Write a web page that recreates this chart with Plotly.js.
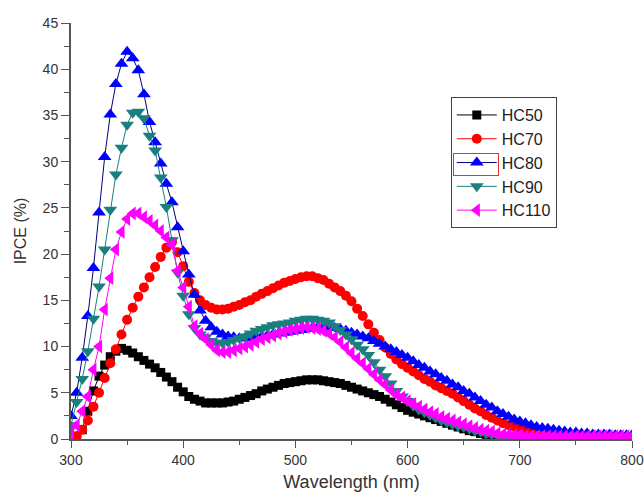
<!DOCTYPE html>
<html><head><meta charset="utf-8">
<script src="https://cdn.plot.ly/plotly-3.0.1.min.js"></script>
<style>html,body{margin:0;padding:0;background:#fff}#chart{width:644px;height:497px}</style>
</head><body><div id="chart"></div>
<script>
const wavelength = [300,305,310,315,320,325,330,335,340,345,350,355,360,365,370,375,380,385,390,395,400,405,410,415,420,425,430,435,440,445,450,455,460,465,470,475,480,485,490,495,500,505,510,515,520,525,530,535,540,545,550,555,560,565,570,575,580,585,590,595,600,605,610,615,620,625,630,635,640,645,650,655,660,665,670,675,680,685,690,695,700,705,710,715,720,725,730,735,740,745,750,755,760,765,770,775,780,785,790,795,800];

const hc50 = [0.0,0.3,1.0,3.0,5.2,6.8,8.0,8.9,9.5,9.8,9.6,9.3,8.9,8.5,8.1,7.7,7.2,6.7,6.2,5.6,5.1,4.6,4.3,4.1,3.9,3.9,3.9,3.9,4.0,4.1,4.3,4.5,4.7,4.9,5.2,5.4,5.6,5.8,6.0,6.1,6.2,6.3,6.4,6.4,6.4,6.3,6.2,6.1,6.0,5.8,5.6,5.4,5.2,5.0,4.8,4.6,4.3,4.0,3.7,3.4,3.1,2.9,2.7,2.5,2.3,2.1,1.9,1.7,1.5,1.3,1.1,0.9,0.8,0.6,0.5,0.4,0.3,0.2,0.2,0.1,0.1,0.1,0.1,0.1,0.1,0.1,0.1,0.1,0.1,0.1,0.1,0.1,0.1,0.1,0.1,0.1,0.1,0.1,0.1,0.1,0.1];

const hc70 = [0.0,0.3,1.0,2.0,3.5,5.0,6.6,8.2,9.7,11.3,12.9,14.2,15.4,16.4,17.5,18.6,19.7,20.7,21.3,20.2,18.7,17.0,15.8,15.0,14.5,14.2,14.0,14.0,14.1,14.3,14.5,14.8,15.0,15.4,15.7,16.0,16.3,16.6,16.9,17.1,17.3,17.5,17.6,17.6,17.4,17.2,16.8,16.4,16.0,15.5,14.9,14.1,13.3,12.4,11.5,10.7,9.9,9.2,8.6,8.1,7.7,7.3,6.9,6.5,6.2,5.8,5.5,5.2,4.9,4.5,4.1,3.7,3.3,3.0,2.6,2.3,2.0,1.7,1.5,1.3,1.1,0.9,0.8,0.6,0.5,0.4,0.3,0.3,0.3,0.2,0.2,0.2,0.2,0.2,0.2,0.2,0.2,0.2,0.2,0.2,0.2];

const hc80 = [2.5,5.0,8.8,13.3,18.5,24.5,30.5,35.1,38.4,40.6,41.9,41.2,39.9,37.3,34.3,32.1,29.8,27.6,25.6,22.9,20.3,17.8,15.6,13.9,12.8,12.1,11.6,11.3,11.1,11.0,10.9,10.9,11.0,11.0,11.1,11.2,11.3,11.4,11.5,11.6,11.7,11.8,11.9,12.0,12.1,12.1,12.1,12.0,11.9,11.7,11.5,11.3,11.1,10.9,10.6,10.3,10.0,9.7,9.4,9.1,8.8,8.4,8.0,7.7,7.3,7.0,6.6,6.3,5.9,5.6,5.2,4.9,4.5,4.1,3.7,3.4,3.0,2.7,2.4,2.1,1.9,1.7,1.5,1.3,1.2,1.1,1.0,0.9,0.8,0.7,0.7,0.6,0.6,0.5,0.5,0.5,0.5,0.4,0.4,0.4,0.4];

const hc90 = [1.5,4.0,6.5,9.5,13.0,16.5,20.5,24.8,28.6,31.5,34.0,35.3,35.4,34.7,32.8,31.2,28.3,25.1,21.5,18.0,15.5,13.5,12.0,11.3,11.0,10.6,10.4,10.4,10.5,10.7,10.9,11.1,11.4,11.7,11.9,12.1,12.3,12.4,12.5,12.6,12.8,12.9,13.0,13.0,12.9,12.8,12.6,12.2,11.8,11.3,10.8,10.2,9.7,9.1,8.3,7.5,6.8,6.0,5.2,4.6,4.1,3.6,3.2,2.9,2.6,2.3,2.0,1.8,1.6,1.4,1.3,1.1,0.9,0.8,0.6,0.5,0.4,0.3,0.2,0.1,0.0,0.0,0.0,0.0,0.0,0.0,0.0,0.0,0.0,0.0,0.0,0.0,0.0,0.0,0.0,0.0,0.0,0.0,0.0,0.0,0.0];

const hc110 = [0.5,1.5,3.0,4.6,7.5,10.0,14.0,17.4,20.5,22.4,23.8,24.4,24.4,24.0,23.6,23.1,22.5,21.8,21.0,18.2,16.4,14.3,12.2,11.4,10.8,10.2,9.6,9.4,9.4,9.6,9.8,10.0,10.2,10.5,10.8,11.0,11.2,11.4,11.6,11.8,11.9,12.0,12.1,12.0,11.9,11.7,11.4,11.0,10.5,9.9,9.3,8.7,8.2,7.6,7.0,6.4,5.9,5.3,4.8,4.5,4.1,3.8,3.5,3.2,2.9,2.7,2.4,2.2,2.0,1.8,1.6,1.4,1.2,1.0,0.9,0.8,0.6,0.5,0.5,0.4,0.4,0.3,0.3,0.3,0.3,0.3,0.3,0.3,0.3,0.3,0.3,0.3,0.3,0.3,0.3,0.3,0.3,0.3,0.3,0.3,0.3];

const seriesNames = ["HC50","HC70","HC80","HC90","HC110"];
const seriesData = [hc50, hc70, hc80, hc90, hc110];
const lineColors = ["#000000","#ff0000","#00007f","#1a7f7f","#ff00ff"];
const markerColors = ["#000000","#ff0000","#0000ff","#1a7f7f","#ff00ff"];
const symbols = ["square","circle","triangle-up","triangle-down","triangle-left"];
const sizes = [9,10,12,12,12];

const traces = seriesNames.map((n,i)=>({
  type:"scatter", mode:"lines+markers", name:n,
  x: wavelength, y: seriesData[i],
  line:{color:lineColors[i], width:1},
  marker:{symbol:symbols[i], size:sizes[i], color:markerColors[i]}
}));

const fam = "Arial, Liberation Sans, sans-serif";
const axisFont = {family:fam, size:14, color:"#333"};
const layout = {
  width:644, height:497,
  margin:{l:71, r:12, t:23, b:58},
  paper_bgcolor:"#fff", plot_bgcolor:"#fff",
  showlegend:true,
  legend:{x:0.677, y:0.822, xanchor:"left", yanchor:"top", bgcolor:"#fff",
    bordercolor:"#444", borderwidth:1, font:{family:fam, size:16, color:"#222"},
    tracegroupgap:0, itemwidth:40},
  xaxis:{range:[300,800], tickvals:[300,400,500,600,700,800], ticks:"outside", ticklen:7, tickwidth:1,
    tickcolor:"#555", showline:true, linecolor:"#555", linewidth:2, showgrid:false, zeroline:false,
    tickfont:axisFont, minor:{tickvals:[350,450,550,650,750], ticks:"outside", ticklen:4, tickcolor:"#555"},
    title:{text:"Wavelength (nm)", font:{family:fam, size:18, color:"#333"}, standoff:9}},
  yaxis:{range:[0,45], tickvals:[0,5,10,15,20,25,30,35,40,45], ticks:"outside", ticklen:8, tickwidth:1,
    tickcolor:"#555", showline:true, linecolor:"#555", linewidth:2, showgrid:false, zeroline:false,
    tickfont:axisFont, minor:{dtick:2.5, ticks:"outside", ticklen:5, tickcolor:"#555"},
    title:{text:"IPCE (%)", font:{family:fam, size:16, color:"#333"}, standoff:12}},
  annotations:[{xref:"paper", yref:"paper", x:0.681, y:0.66, xanchor:"left", yanchor:"middle",
    text:"", showarrow:false, width:44, height:21, borderpad:0, bordercolor:"#d33", borderwidth:1}]
};
Plotly.newPlot("chart", traces, layout, {staticPlot:true, displayModeBar:false});
</script></body></html>
